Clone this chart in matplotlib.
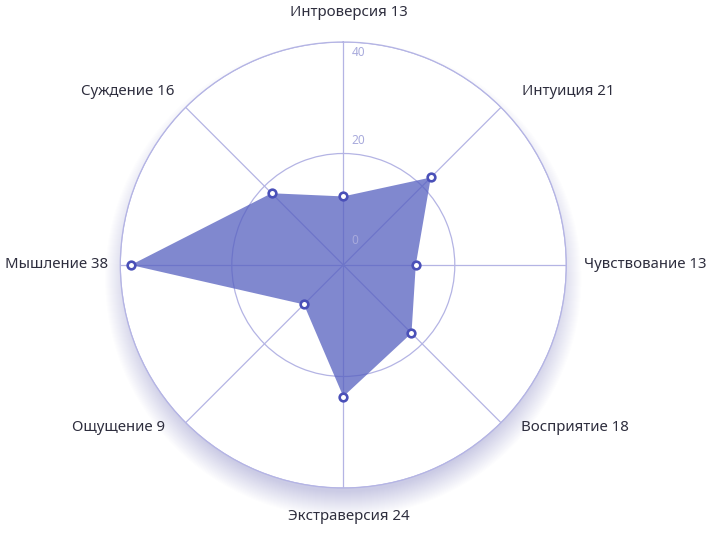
import numpy as np
import matplotlib
matplotlib.use('Agg')
import matplotlib.pyplot as plt
from matplotlib.patches import Circle

# data
categories = ['Интроверсия', 'Интуиция', 'Чувствование', 'Восприятие',
              'Экстраверсия', 'Ощущение', 'Мышление', 'Суждение']
label_values = [13, 21, 13, 18, 24, 9, 38, 16]
# positions of the points
plot_values = [12.3, 22.2, 13.0, 17.3, 23.6, 10.0, 38.1, 18.2]
r_ticks = [0, 20, 40]
r_tick_label_pos = [4.36, 22.3, 38.1]

plt.rcParams['font.family'] = ['Noto Sans', 'DejaVu Sans']

GRID = '#b4b4e4'
FILL = '#5660c0'
EDGE = '#4a50b8'
TEXT = '#2e2e3e'

W, H = 708, 539
cx, cy, R = 343.3, 265, 223

fig = plt.figure(figsize=(W / 100, H / 100), dpi=100)

# soft shadow under the outer ring
bg = fig.add_axes([0, 0, 1, 1])
bg.set_xlim(0, W)
bg.set_ylim(0, H)
bg.axis('off')
for rr in np.linspace(R + 15, R - 10, 26):
    bg.add_patch(Circle((cx, H - cy - 14), rr, color='#6870d0', alpha=0.013, lw=0))

ax = fig.add_axes([(cx - R) / W, (H - cy - R) / H, 2 * R / W, 2 * R / H], polar=True)
ax.set_theta_zero_location('N')
ax.set_theta_direction(-1)
ax.set_ylim(0, 40)

n = len(categories)
angles = np.arange(n) * 2 * np.pi / n
a_closed = np.append(angles, angles[0])
v_closed = np.append(plot_values, plot_values[0])

ax.fill(a_closed, v_closed, color=FILL, alpha=0.75, lw=0, zorder=2)
ax.plot(angles, plot_values, 'o', ms=5.5, mfc='white', mec=EDGE, mew=1.9, zorder=4, clip_on=False)

ax.set_xticks(angles)
ax.set_xticklabels([])
ax.set_yticks([20, 40])
ax.set_yticklabels([])
ax.grid(True, color=GRID, lw=0.9)
ax.spines['polar'].set_color(GRID)
ax.spines['polar'].set_linewidth(0.9)

# radial tick labels
for t, rp in zip(r_ticks, r_tick_label_pos):
    ax.annotate(str(t), xy=(0, rp), xytext=(8, 0), textcoords='offset pixels',
                color='#a8aadc', fontsize=8.5, ha='left', va='center', zorder=5)

# category labels: offset (px) from the spoke end, and alignment
label_offsets = [(6, 29), (21, 16), (18, 0), (20, -5), (6, -29), (-21, -5), (-12, 0), (-11, 16)]
label_align = ['center', 'left', 'left', 'left', 'center', 'right', 'right', 'right']
for ang, cat, v, off, ha in zip(angles, categories, label_values, label_offsets, label_align):
    ax.annotate(f'{cat} {v}', xy=(ang, 40), xytext=off, textcoords='offset pixels',
                ha=ha, va='center', fontsize=10.8, color=TEXT, annotation_clip=False)

fig.savefig('out.png', dpi=100, facecolor='white')
